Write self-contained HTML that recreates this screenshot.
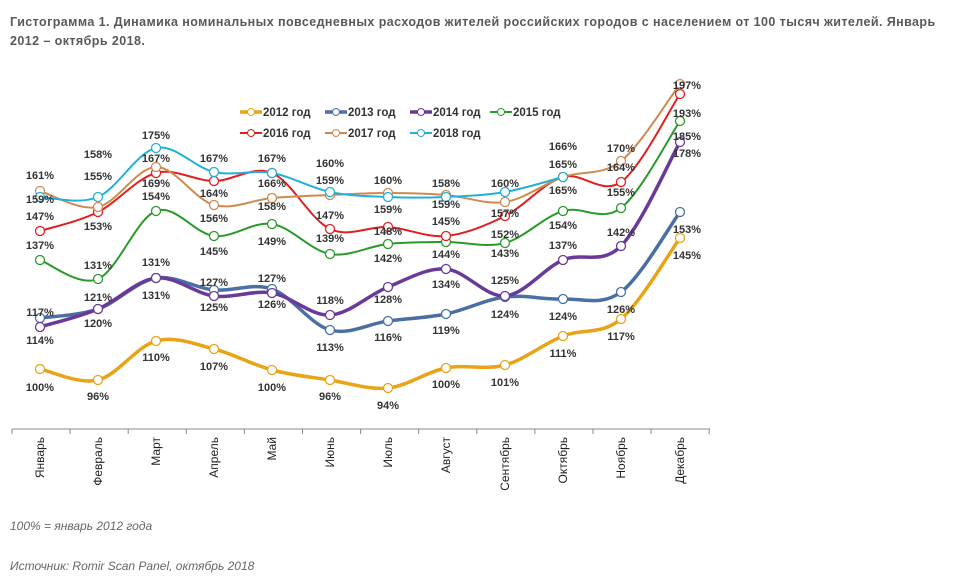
<!DOCTYPE html>
<html><head><meta charset="utf-8"><style>
body{margin:0;background:#fff;width:953px;height:586px;overflow:hidden;font-family:"Liberation Sans",Arial,sans-serif}
.t{position:absolute;left:10px;top:13px;width:940px;font-size:12.5px;font-weight:bold;color:#595959;line-height:19px;letter-spacing:0.42px;white-space:nowrap}
.f{position:absolute;left:10px;font-size:12px;font-style:italic;color:#666}
</style></head><body>
<div class="t">Гистограмма 1. Динамика номинальных повседневных расходов жителей российских городов с населением от 100 тысяч жителей. Январь<br>2012 – октябрь 2018.</div>
<svg id="s" width="953" height="586" style="position:absolute;left:0;top:0" xmlns="http://www.w3.org/2000/svg"></svg>
<div class="f" style="top:519px">100% = январь 2012 года</div>
<div class="f" style="top:559px">Источник: Romir Scan Panel, октябрь 2018</div>
<script>
var X=[40,98,156,214,272,330,388,446,505,563,621,680];
var S=[
["#e8a317",3.5,[369,380,341,349,370,380,388,368,365,336,319,238]],
["#4a6fa5",3.5,[318,309,278,290,289,330,321,314,297,299,292,212]],
["#6a3a9a",3.5,[327,309,278,296,293,315,287,269,296,260,246,142]],
["#2a9a2a",2,[260,279,211,236,224,254,244,242,243,211,208,121]],
["#e02020",2,[231,212,173,181,173,229,227,236,216,177,182,94]],
["#d08a50",2,[191,207,167,205,198,195,193,195,202,177,161,84]],
["#22b0d8",2,[197,197,148,172,173,192,197,197,192,177]]
];
var svg='';
function path(ys){var p='M'+X[0]+','+ys[0];for(var i=0;i<ys.length-1;i++){var x0=X[i-1]!==undefined?X[i-1]:X[i],y0=ys[i-1]!==undefined?ys[i-1]:ys[i];var x3=X[i+2]!==undefined&&i+2<ys.length?X[i+2]:X[i+1],y3=i+2<ys.length?ys[i+2]:ys[i+1];var c1x=X[i]+(X[i+1]-x0)/6,c1y=ys[i]+(ys[i+1]-y0)/6,c2x=X[i+1]-(x3-X[i])/6,c2y=ys[i+1]-(y3-ys[i])/6;p+=' C'+c1x+','+c1y+' '+c2x+','+c2y+' '+X[i+1]+','+ys[i+1];}return p;}
S.forEach(function(s){svg+='<path d="'+path(s[2])+'" fill="none" stroke="'+s[0]+'" stroke-width="'+s[1]+'"/>';});
S.forEach(function(s){s[2].forEach(function(y,i){svg+='<circle cx="'+X[i]+'" cy="'+y+'" r="4.5" fill="#fff" stroke="'+s[0]+'" stroke-width="1.3"/>';});});
svg+='<line x1="12" y1="429" x2="710" y2="429" stroke="#888" stroke-width="1"/>';
for(var i=0;i<13;i++){var tx=12+i*58.1;svg+='<line x1="'+tx+'" y1="429" x2="'+tx+'" y2="434" stroke="#888"/>';}
var M=["Январь","Февраль","Март","Апрель","Май","Июнь","Июль","Август","Сентябрь","Октябрь","Ноябрь","Декабрь"];
M.forEach(function(m,i){svg+='<text transform="translate('+(X[i]+4)+',437) rotate(-90)" text-anchor="end" font-size="12" fill="#222">'+m+'</text>';});
var L=[[40,175,161],[40,199,159],[40,216,147],[40,245,137],[40,312,117],[40,340,114],[40,387,100],
[98,154,158],[98,176,155],[98,226,153],[98,265,131],[98,297,121],[98,323,120],[98,396,96],
[156,135,175],[156,158,167],[156,183,169],[156,196,154],[156,262,131],[156,295,131],[156,357,110],
[214,158,167],[214,193,164],[214,218,156],[214,251,145],[214,282,127],[214,307,125],[214,366,107],
[272,158,167],[272,183,166],[272,206,158],[272,241,149],[272,278,127],[272,304,126],[272,387,100],
[330,163,160],[330,180,159],[330,215,147],[330,238,139],[330,300,118],[330,347,113],[330,396,96],
[388,180,160],[388,209,159],[388,231,148],[388,258,142],[388,299,128],[388,337,116],[388,405,94],
[446,183,158],[446,204,159],[446,221,145],[446,254,144],[446,284,134],[446,330,119],[446,384,100],
[505,183,160],[505,213,157],[505,234,152],[505,253,143],[505,280,125],[505,314,124],[505,382,101],
[563,146,166],[563,164,165],[563,190,165],[563,225,154],[563,245,137],[563,316,124],[563,353,111],
[621,148,170],[621,167,164],[621,192,155],[621,232,142],[621,309,126],[621,336,117],
[687,85,197],[687,113,193],[687,136,185],[687,153,178],[687,229,153],[687,255,145]];
L.forEach(function(l){svg+='<text x="'+l[0]+'" y="'+(l[1]+4)+'" text-anchor="middle" font-size="11" font-weight="bold" fill="#333">'+l[2]+'%</text>';});
var G=[[240,112,0,"2012 год"],[325,112,1,"2013 год"],[410,112,2,"2014 год"],[490,112,3,"2015 год"],[240,133,4,"2016 год"],[325,133,5,"2017 год"],[410,133,6,"2018 год"]];
G.forEach(function(g){var s=S[g[2]];svg+='<line x1="'+g[0]+'" y1="'+g[1]+'" x2="'+(g[0]+22)+'" y2="'+g[1]+'" stroke="'+s[0]+'" stroke-width="'+s[1]+'"/><circle cx="'+(g[0]+11)+'" cy="'+g[1]+'" r="3.5" fill="#fff" stroke="'+s[0]+'"/><text x="'+(g[0]+23)+'" y="'+(g[1]+4)+'" font-size="11.5" font-weight="bold" fill="#333">'+g[3]+'</text>';});
document.getElementById('s').innerHTML=svg;
</script>
</body></html>
